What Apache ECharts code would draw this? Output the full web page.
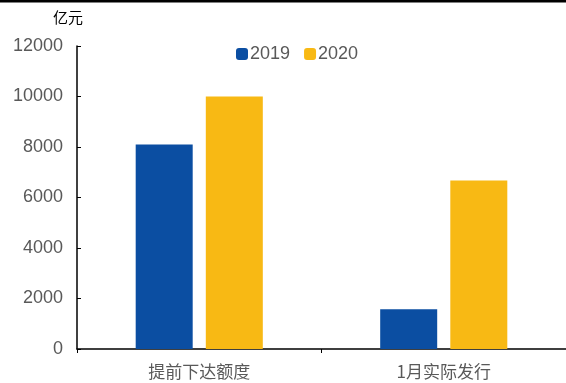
<!DOCTYPE html>
<html><head><meta charset="utf-8">
<script src="https://cdn.jsdelivr.net/npm/echarts@6/dist/echarts.min.js"></script>
<style>html,body{margin:0;padding:0;background:#fff}#c{width:566px;height:383px}</style>
</head><body><div id="c"></div>
<script>
const categories = ['提前下达额度', '1月实际发行'];
const series2019 = [8100, 1570];
const series2020 = [10000, 6670];
const yTicks = [0, 2000, 4000, 6000, 8000, 10000, 12000];
const unitLabel = '亿元';

const chart = echarts.init(document.getElementById('c'), null, {renderer: 'canvas'});
chart.setOption({
  animation: false,
  backgroundColor: '#fff',
  graphic: [
    {type: 'rect', left: 0, top: 0, shape: {width: 566, height: 2.5}, style: {fill: '#000'}},
    {type: 'text', left: 53, top: 10, style: {text: unitLabel, font: '15px "Noto Sans CJK SC"', fill: '#000'}}
  ],
  legend: {
    top: 45, left: 236, padding: 0,
    itemWidth: 12, itemHeight: 12, itemGap: 14,
    textStyle: {fontSize: 18, color: '#595959', fontFamily: 'Liberation Sans', padding: [0, 0, 0, -3]},
    data: ['2019', '2020']
  },
  grid: {left: 77, right: 0, top: 46, bottom: 34, containLabel: false},
  xAxis: {
    type: 'category', data: categories,
    axisLine: {lineStyle: {color: '#000', width: 1.5}},
    axisTick: {show: true, length: 4, inside: false, lineStyle: {color: '#000'}},
    axisLabel: {fontSize: 17, color: '#595959', fontFamily: 'Noto Sans CJK SC', margin: 14}
  },
  yAxis: {
    type: 'value', min: yTicks[0], max: yTicks[yTicks.length - 1], interval: 2000,
    axisLine: {show: true, lineStyle: {color: '#000', width: 1.5}},
    axisTick: {show: true, inside: true, length: 4, lineStyle: {color: '#000'}},
    splitLine: {show: false},
    axisLabel: {fontSize: 18, color: '#595959', fontFamily: 'Liberation Sans', margin: 14, formatter: v => String(v)}
  },
  series: [
    {name: '2019', type: 'bar', data: series2019, barWidth: 57, barGap: '23%', itemStyle: {color: '#0b4ea2'}},
    {name: '2020', type: 'bar', data: series2020, barWidth: 57, itemStyle: {color: '#f8b914'}}
  ]
});
</script></body></html>
